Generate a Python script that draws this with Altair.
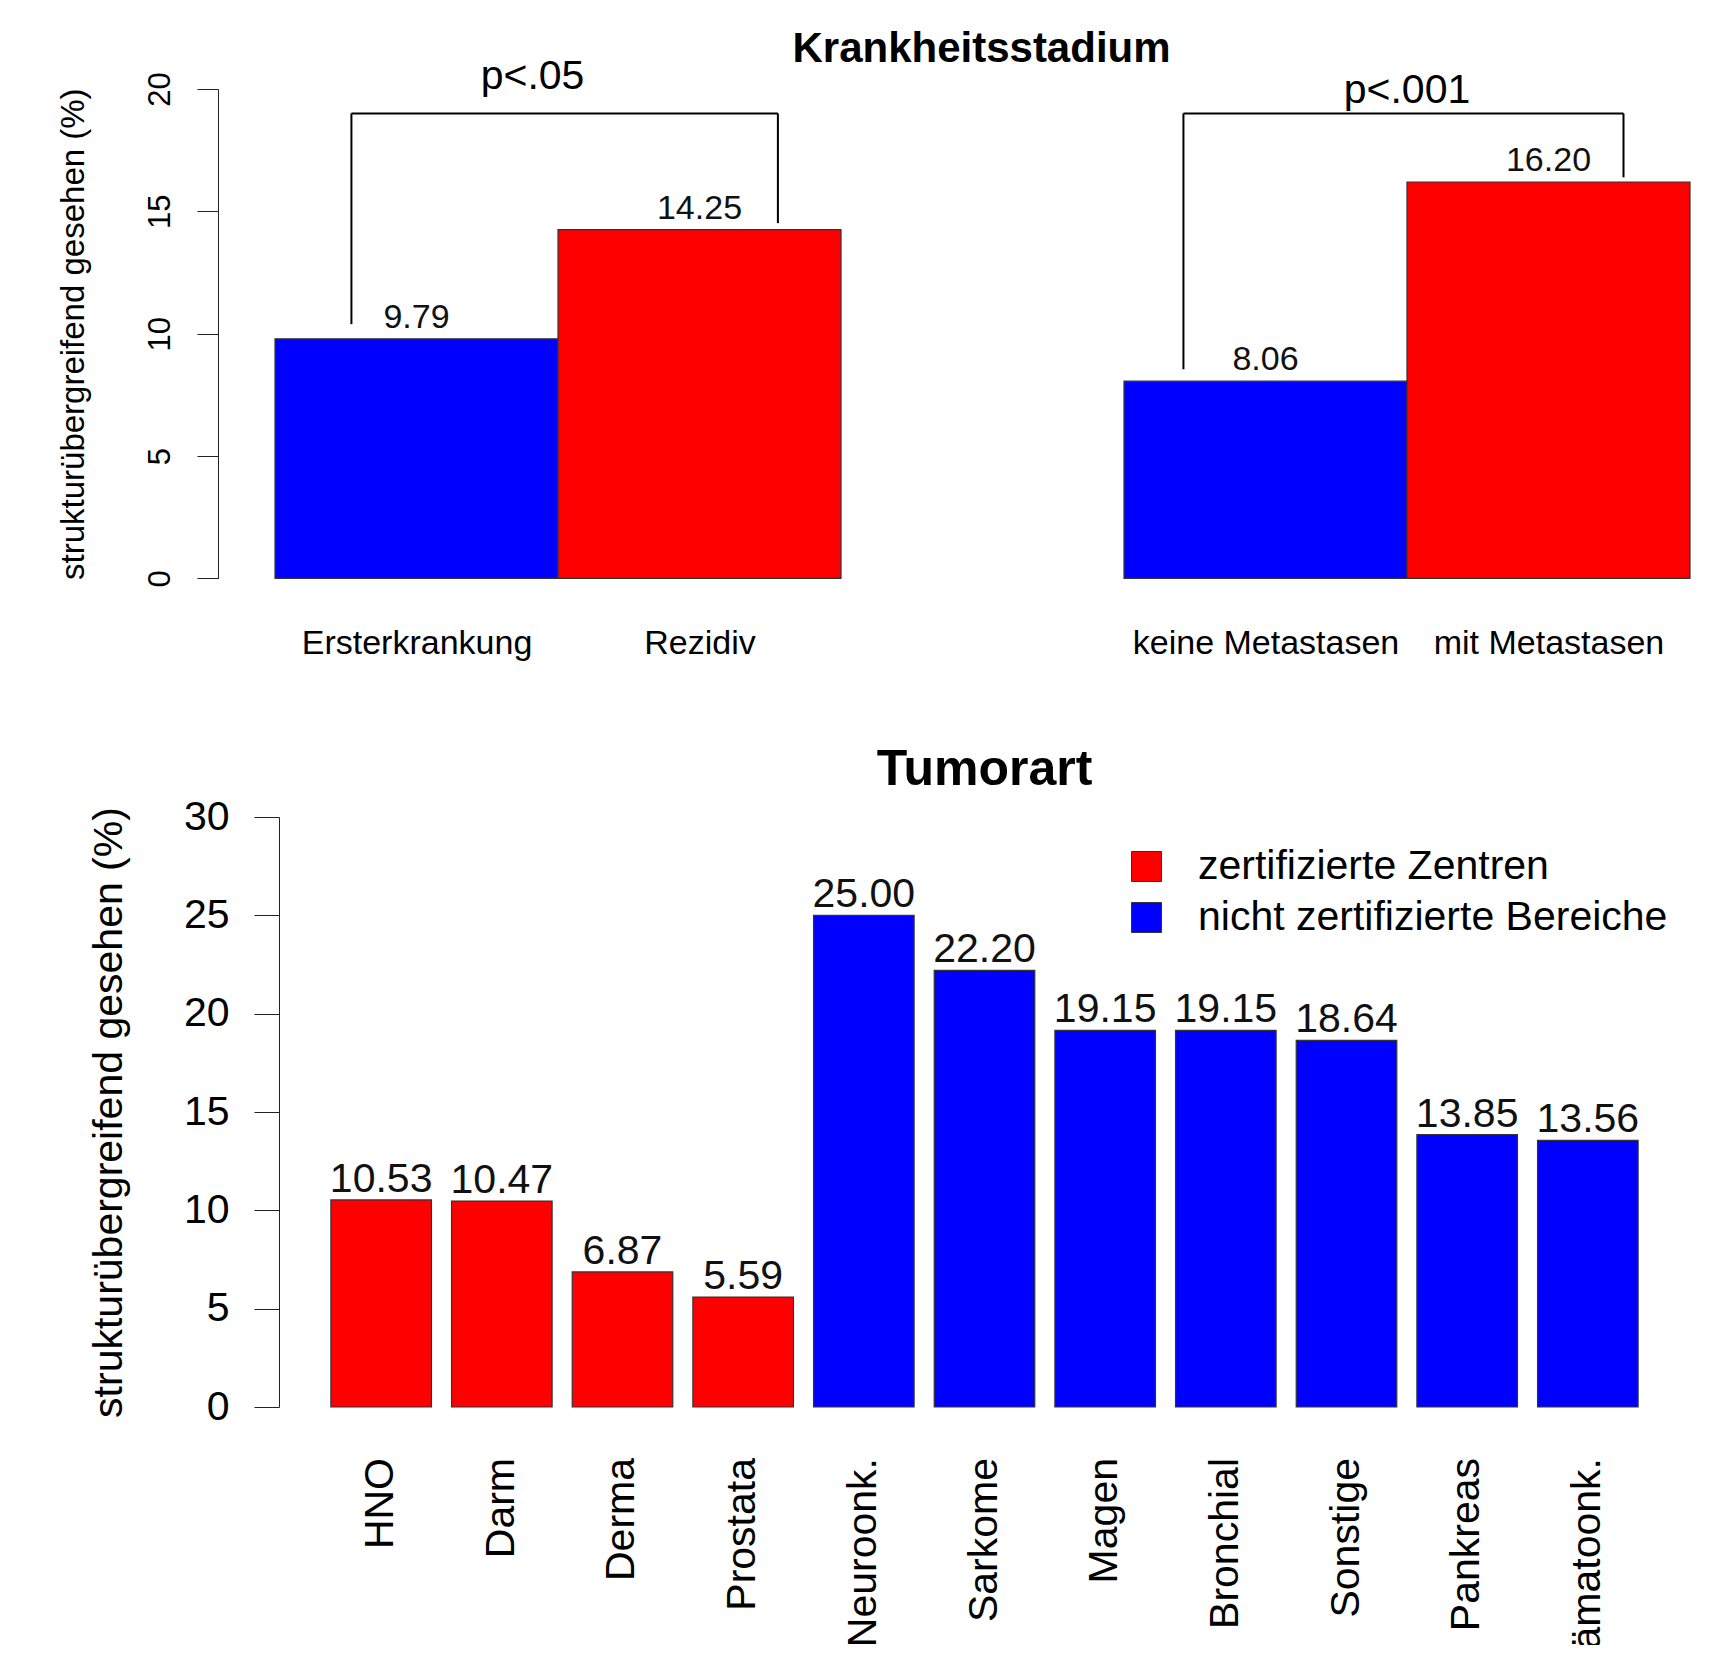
import altair as alt
import pandas as pd

FONT = "Liberation Sans, Arial, Helvetica, sans-serif"

# ---------------- Panel: Krankheitsstadium ----------------
stage_labels = ["Ersterkrankung", "Rezidiv", "keine Metastasen", "mit Metastasen"]
stage_values = [9.79, 14.25, 8.06, 16.20]
stage_kind = ["ohne", "mit", "ohne", "mit"]
stage_group = [0, 0, 1, 1]

p_labels = ["p<.05", "p<.001"]
p_label_x = [0.91, 4.0]
p_label_y = [20.0, 19.42]
bracket_top = [19.0, 19.0]
bracket_x_left = [0.27, 3.21]
bracket_x_right = [1.777, 4.765]
bracket_y_left = [10.39, 8.55]
bracket_y_right = [14.52, 16.39]

# ---------------- Panel: Tumorart ----------------
tumor_labels = ["HNO", "Darm", "Derma", "Prostata", "Neuroonk.", "Sarkome",
                "Magen", "Bronchial", "Sonstige", "Pankreas", "Hämatoonk."]
tumor_values = [10.53, 10.47, 6.87, 5.59, 25.00, 22.20, 19.15, 19.15, 18.64, 13.85, 13.56]
legend_labels = ["zertifizierte Zentren", "nicht zertifizierte Bereiche"]
tumor_group = [legend_labels[0]] * 4 + [legend_labels[1]] * 7

RED = "#ff0000"
BLUE = "#0000ff"
YTITLE = "strukturübergreifend gesehen (%)"

# --- build tables ---
rows = []
for i, (lab, val, kind, g) in enumerate(zip(stage_labels, stage_values, stage_kind, stage_group)):
    start = g * 3 + (i - 2 * g)
    rows.append({"label": lab, "value": val, "base": 0, "kind": kind,
                 "x0": start, "x1": start + 1, "xc": start + 0.5})
stage_df = pd.DataFrame(rows)

seg_rows = []
for xl, xr, yt, yl, yr in zip(bracket_x_left, bracket_x_right, bracket_top, bracket_y_left, bracket_y_right):
    seg_rows.append({"x": xl, "x2": xr, "y": yt, "y2": yt})
    seg_rows.append({"x": xl, "x2": xl, "y": yl, "y2": yt})
    seg_rows.append({"x": xr, "x2": xr, "y": yr, "y2": yt})
seg_df = pd.DataFrame(seg_rows)
p_df = pd.DataFrame({"text": p_labels, "x": p_label_x, "y": p_label_y})

tumor_df = pd.DataFrame({"label": tumor_labels, "value": tumor_values, "group": tumor_group})

# --- top chart ---
xs = alt.Scale(domain=[0.0141, 5.0], nice=False, zero=False)
ys = alt.Scale(domain=[0, 20], nice=False)

label_expr = " : ".join(
    f"datum.value == {r['xc']} ? '{r['label']}'" for r in rows
) + " : ''"

x_axis_top = alt.Axis(
    values=[r["xc"] for r in rows], labelExpr=label_expr, title=None,
    domain=False, ticks=False, tickSize=0, grid=False, labelFontSize=34,
    labelFont=FONT, labelColor="black", labelBaseline="alphabetic",
    labelPadding=75, labelOverlap=False, labelFlush=False, labelLimit=1000)
y_axis_top = alt.Axis(
    values=[0, 5, 10, 15, 20], offset=61, tickSize=21, labelAngle=-90,
    labelAlign="center", labelBaseline="bottom", labelPadding=21,
    labelFontSize=31, labelFont=FONT, labelColor="black",
    title=YTITLE, titleFontSize=33,
    titleFont=FONT, titleFontWeight="normal", titleColor="black",
    titlePadding=54, grid=False, domainColor="#222222", tickColor="#222222",
    labelOverlap=False, labelFlush=False)

bars_top = alt.Chart(stage_df).mark_bar(stroke="#333333", strokeWidth=1.2).encode(
    x=alt.X("x0:Q", scale=xs, axis=x_axis_top, title=None),
    x2="x1:Q",
    y=alt.Y("value:Q", scale=ys, axis=y_axis_top, title=YTITLE),
    y2="base:Q",
    color=alt.Color("kind:N", scale=alt.Scale(domain=["ohne", "mit"], range=[BLUE, RED]), legend=None),
)

vals_top = alt.Chart(stage_df).mark_text(
    baseline="alphabetic", dy=-11, fontSize=34, font=FONT, color="#111111"
).encode(
    x=alt.X("xc:Q", scale=xs, axis=x_axis_top, title=None),
    y=alt.Y("value:Q", scale=ys, axis=y_axis_top, title=YTITLE),
    text=alt.Text("value:Q", format=".2f"),
)

rules_top = alt.Chart(seg_df).mark_rule(color="black", strokeWidth=2).encode(
    x=alt.X("x:Q", scale=xs, axis=x_axis_top, title=None), x2="x2:Q",
    y=alt.Y("y:Q", scale=ys, axis=y_axis_top, title=YTITLE), y2="y2:Q",
)

ptext = alt.Chart(p_df).mark_text(
    baseline="alphabetic", fontSize=41, font=FONT, color="black"
).encode(
    x=alt.X("x:Q", scale=xs, axis=x_axis_top, title=None),
    y=alt.Y("y:Q", scale=ys, axis=y_axis_top, title=YTITLE),
    text="text:N",
)

top = alt.layer(bars_top, vals_top, rules_top, ptext).properties(
    width=1411, height=489.4,
    title=alt.TitleParams("Krankheitsstadium", fontSize=42, fontWeight="bold",
                          font=FONT, color="black", anchor="middle", dx=-3,
                          baseline="alphabetic", offset=-48),
)

# --- bottom chart ---
xb = alt.Scale(type="band", domain=tumor_labels, paddingInner=0.1667, paddingOuter=0.43)
yb = alt.Scale(domain=[0, 30], nice=False)

y_axis_bot = alt.Axis(
    values=[0, 5, 10, 15, 20, 25, 30], tickSize=25, labelPadding=25,
    labelFontSize=41, labelFont=FONT, labelColor="black",
    title=YTITLE, titleFontSize=41,
    titleFont=FONT, titleFontWeight="normal", titleColor="black",
    titlePadding=53, grid=False, domainColor="#222222", tickColor="#222222",
    labelOverlap=False, labelFlush=False)

bars_bot = alt.Chart(tumor_df).mark_bar(stroke="#333333", strokeWidth=1.2).encode(
    x=alt.X("label:N", scale=xb, sort=tumor_labels, axis=None),
    y=alt.Y("value:Q", scale=yb, axis=y_axis_bot, title=YTITLE),
    color=alt.Color("group:N", scale=alt.Scale(domain=legend_labels, range=[RED, BLUE]),
                    legend=alt.Legend(
                        title=None, orient="none", legendX=847, legendY=29,
                        symbolType="square", symbolSize=900, symbolStrokeColor="#333333",
                        symbolStrokeWidth=1, symbolOpacity=1,
                        labelFontSize=41, labelFont=FONT, labelColor="black",
                        labelLimit=1000, labelOffset=31, rowPadding=9, padding=0)),
)

vals_bot = alt.Chart(tumor_df).mark_text(
    baseline="alphabetic", dy=-8, fontSize=41, font=FONT, color="#111111"
).encode(
    x=alt.X("label:N", scale=xb, sort=tumor_labels, axis=None),
    y=alt.Y("value:Q", scale=yb, axis=y_axis_bot, title=YTITLE),
    text=alt.Text("value:Q", format=".2f"),
)

bottom = alt.layer(bars_bot, vals_bot).properties(
    width=1411, height=590,
    title=alt.TitleParams("Tumorart", fontSize=50, fontWeight="bold", font=FONT,
                          color="black", anchor="middle", baseline="alphabetic", offset=-39),
)

# category labels below the bars (cut at the page edge like the original)
cat_labels = alt.Chart(tumor_df).mark_text(
    angle=270, align="right", baseline="middle", fontSize=41, font=FONT,
    color="black", clip=True
).encode(
    x=alt.X("label:N", scale=xb, sort=tumor_labels, axis=None),
    y=alt.value(51),
    text="label:N",
).properties(width=1411, height=238)

lower = alt.vconcat(bottom, cat_labels, spacing=0, bounds="flush").resolve_scale(
    color="independent", x="independent", y="independent"
)

chart = alt.vconcat(top, lower, spacing=238, bounds="flush").resolve_scale(
    color="independent", x="independent", y="independent"
).configure_view(stroke=None).properties(
    padding={"left": 48, "top": 20, "right": 5, "bottom": 0}
)

chart.save("out.html", embed_options={"renderer": "svg", "actions": False})
